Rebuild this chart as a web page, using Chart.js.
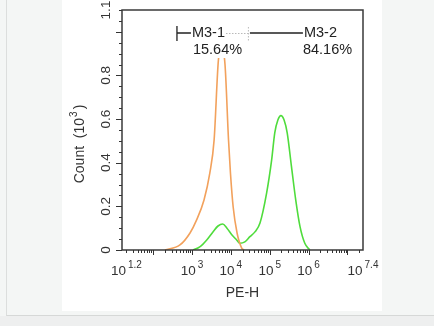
<!DOCTYPE html>
<html>
<head>
<meta charset="utf-8">
<script src="https://cdn.jsdelivr.net/npm/chart.js@4.4.1/dist/chart.umd.min.js"></script>
<style>
  html, body { margin: 0; padding: 0; }
  body { width: 434px; height: 326px; background: #f4f6f5; position: relative; overflow: hidden; }
  #sheet { position: absolute; left: 6px; top: 0; width: 428px; height: 315px; background: #f4f6f5;
           border-left: 1px solid #dcdedd; border-bottom: 1px solid #d6d8d7; }
  #foot { position: absolute; left: 0; top: 316px; width: 434px; height: 10px; background: #eeefef; }
  #panel { position: absolute; left: 62px; top: 0; width: 320px; height: 311px; background: #ffffff; }
  canvas { position: absolute; left: 0; top: 0; }
</style>
</head>
<body>
<div id="sheet"></div>
<div id="foot"></div>
<div id="panel"></div>
<canvas id="hist" width="434" height="326"></canvas>
<script>
// Isotype control histogram (PE-H vs. count, thousands)
const controlPE    = [202, 490, 891, 1318, 2042, 2884, 3715, 4786, 5754, 7079, 8710, 9772, 11482, 14454, 19055, 21878];
const controlCount = [0, 0.023, 0.078, 0.138, 0.229, 0.353, 0.505, 0.87, 0.93, 0.85, 0.505, 0.353, 0.197, 0.078, 0.009, 0];

// Stained sample histogram
const stainedPE    = [1072, 1585, 2399, 3467, 4677, 6166, 7943, 10715, 14125, 16982, 22909, 30903, 41687, 56234,
                      83176, 112202, 134896, 162181, 194984, 234423, 281838, 363078, 467735, 602560, 794328, 1071519];
const stainedCount = [0, 0.014, 0.046, 0.083, 0.11, 0.119, 0.1, 0.069, 0.046, 0.031, 0.037, 0.061, 0.083, 0.124,
                      0.261, 0.413, 0.537, 0.596, 0.616, 0.596, 0.537, 0.382, 0.229, 0.107, 0.032, 0];

// Axis ranges and tick labels
const xExpMin = 1.2, xExpMax = 7.4;
const xTickExps = [1.2, 3, 4, 5, 6, 7.4];
const xTickLabels = ['1.2', '3', '4', '5', '6', '7.4'];
const yMin = 0, yMax = 1.1;
const yTickValues = [0, 0.2, 0.4, 0.6, 0.8, 1.1];
const yTickLabels = ['0', '0.2', '0.4', '0.6', '0.8', '1.1'];

// Marker gates: names, percentages, PE-H edges (left bracket, split point)
const gateNames = ['M3-1', 'M3-2'];
const gatePercents = ['15.64%', '84.16%'];
const gateEdges = [411, 27500];

const FONT = '"Liberation Sans", Arial, Helvetica, sans-serif';
const toPts = (xs, ys) => xs.map((v, i) => ({ x: v, y: ys[i] }));

const facsAxes = {
  id: 'facsAxes',
  afterDatasetsDraw(chart) {
    const { ctx, chartArea: a, scales: { x, y } } = chart;
    ctx.save();

    // --- gate markers ---
    const gy = a.top + 23;
    const px0 = x.getPixelForValue(gateEdges[0]);
    const pxs = x.getPixelForValue(gateEdges[1]);
    ctx.font = '14.5px ' + FONT;
    ctx.textBaseline = 'middle';
    ctx.textAlign = 'left';

    const t1x = px0 + 15;
    const t2x = pxs + 56;
    const w1 = ctx.measureText(gateNames[0]).width;
    const wp1 = ctx.measureText(gatePercents[0]).width;
    const wp2 = ctx.measureText(gatePercents[1]).width;

    // white backing for the percent labels
    ctx.fillStyle = '#ffffff';
    ctx.fillRect(t1x, gy + 10, wp1 + 1, 15);
    ctx.fillRect(t2x - 1, gy + 10, wp2 + 2, 15);

    ctx.strokeStyle = '#222';
    ctx.lineWidth = 1.3;
    ctx.beginPath();
    ctx.moveTo(px0, gy - 7); ctx.lineTo(px0, gy + 8);
    ctx.moveTo(px0, gy); ctx.lineTo(t1x - 1, gy);
    ctx.moveTo(pxs + 2, gy); ctx.lineTo(t2x - 1, gy);
    ctx.stroke();

    ctx.strokeStyle = '#b9b9b9';
    ctx.lineWidth = 1;
    ctx.setLineDash([1.5, 1.5]);
    ctx.beginPath();
    ctx.moveTo(t1x + w1 + 1, gy + 0.5); ctx.lineTo(pxs, gy + 0.5);
    ctx.moveTo(pxs + 0.5, gy - 6); ctx.lineTo(pxs + 0.5, gy + 9);
    ctx.stroke();
    ctx.setLineDash([]);

    ctx.fillStyle = '#222';
    ctx.fillText(gateNames[0], t1x, gy);
    ctx.fillText(gateNames[1], t2x, gy);
    ctx.fillText(gatePercents[0], t1x + 1, gy + 17);
    ctx.fillText(gatePercents[1], t2x - 1, gy + 17);

    // --- frame ---
    ctx.strokeStyle = '#3a3a3a';
    ctx.lineWidth = 1.5;
    ctx.beginPath();
    ctx.rect(a.left, a.top, a.right - a.left, a.bottom - a.top);
    ctx.stroke();

    // --- y ticks (left, outside) ---
    ctx.lineWidth = 1;
    ctx.strokeStyle = '#333';
    ctx.beginPath();
    for (let i = 0; i <= 22; i++) {
      const v = i * 0.05;
      const py = Math.round(y.getPixelForValue(v)) + 0.5;
      const major = i % 4 === 0;
      ctx.moveTo(a.left, py);
      ctx.lineTo(a.left - (major ? 6 : 3), py);
    }
    ctx.stroke();

    // --- x ticks (bottom, outside, log minor) ---
    ctx.beginPath();
    for (let d = 1; d <= 7; d++) {
      for (let m = 1; m <= 9; m++) {
        const v = m * Math.pow(10, d);
        const e = Math.log10(v);
        if (e < xExpMin - 1e-9 || e > xExpMax + 1e-9) continue;
        const px = Math.round(x.getPixelForValue(v)) + 0.5;
        ctx.moveTo(px, a.bottom);
        ctx.lineTo(px, a.bottom + (m === 1 ? 5 : 3));
      }
    }
    ctx.stroke();

    // --- y tick labels (rotated) ---
    ctx.fillStyle = '#333';
    ctx.font = '13.5px ' + FONT;
    ctx.textAlign = 'center';
    ctx.textBaseline = 'middle';
    yTickValues.forEach((v, i) => {
      const py = y.getPixelForValue(v);
      ctx.save();
      ctx.translate(a.left - 16, py);
      ctx.rotate(-Math.PI / 2);
      ctx.fillText(yTickLabels[i], 0, 0);
      ctx.restore();
    });

    // --- x tick labels: 10 with superscript exponent ---
    xTickExps.forEach((e, i) => {
      const px = x.getPixelForValue(Math.pow(10, e));
      ctx.font = '13.5px ' + FONT;
      const wb = ctx.measureText('10').width;
      ctx.font = '10px ' + FONT;
      const ws = ctx.measureText(xTickLabels[i]).width;
      const total = wb + 2 + ws;
      let left = px - total / 2;
      if (left < a.left - 12) left = a.left - 11;
      ctx.textAlign = 'left';
      ctx.textBaseline = 'middle';
      ctx.font = '13.5px ' + FONT;
      ctx.fillText('10', left, a.bottom + 21);
      ctx.font = '10px ' + FONT;
      ctx.fillText(xTickLabels[i], left + wb + 2, a.bottom + 15);
    });

    // --- axis titles ---
    ctx.font = '14px ' + FONT;
    ctx.textAlign = 'center';
    ctx.textBaseline = 'middle';
    ctx.fillStyle = '#333';
    ctx.fillText('PE-H', (a.left + a.right) / 2, a.bottom + 43);

    ctx.save();
    ctx.translate(a.left - 42, 144);
    ctx.rotate(-Math.PI / 2);
    ctx.font = '14px ' + FONT;
    const cw = ctx.measureText('Count  (10').width;
    ctx.font = '10px ' + FONT;
    const ew = ctx.measureText('3').width;
    ctx.font = '14px ' + FONT;
    const pw = ctx.measureText(')').width;
    const tot = cw + 1 + ew + 2 + pw;
    ctx.textAlign = 'left';
    ctx.fillText('Count  (10', -tot / 2, 0);
    ctx.font = '10px ' + FONT;
    ctx.fillText('3', -tot / 2 + cw + 1, -6);
    ctx.font = '14px ' + FONT;
    ctx.fillText(')', -tot / 2 + cw + 1 + ew + 2, 0);
    ctx.restore();

    ctx.restore();
  }
};

new Chart(document.getElementById('hist'), {
  type: 'line',
  data: {
    datasets: [
      {
        label: 'Control',
        data: toPts(controlPE, controlCount),
        borderColor: '#f2a15c',
        borderWidth: 1.6,
        pointRadius: 0,
        fill: false,
        cubicInterpolationMode: 'monotone'
      },
      {
        label: 'Stained',
        data: toPts(stainedPE, stainedCount),
        borderColor: '#4fdc3c',
        borderWidth: 1.6,
        pointRadius: 0,
        fill: false,
        cubicInterpolationMode: 'monotone'
      }
    ]
  },
  options: {
    responsive: false,
    animation: false,
    devicePixelRatio: 1,
    layout: { padding: { left: 122, top: 10, right: 71, bottom: 76 } },
    plugins: { legend: { display: false }, tooltip: { enabled: false } },
    scales: {
      x: { type: 'logarithmic', min: Math.pow(10, xExpMin), max: Math.pow(10, xExpMax), display: false },
      y: { type: 'linear', min: yMin, max: yMax, display: false }
    }
  },
  plugins: [facsAxes]
});
</script>
</body>
</html>
